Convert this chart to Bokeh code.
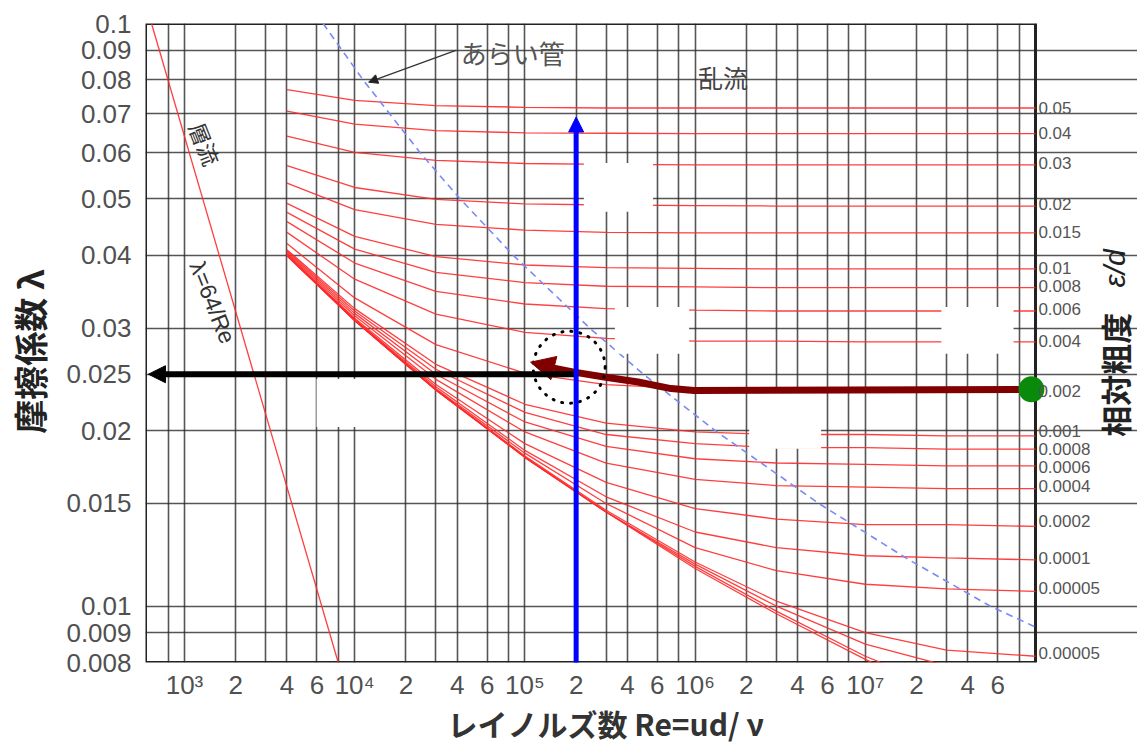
from bokeh.plotting import figure
from bokeh.models import Range1d, FixedTicker, Label, Arrow, NormalHead, Title
from bokeh.core.properties import value
from bokeh.embed import file_html
from bokeh.resources import INLINE

# ---------------- data ----------------
re_points = [4e3, 1e4, 3e4, 1e5, 3e5, 1e6, 3e6, 1e7, 3e7, 1e8]

f_0_05 = [0.0770, 0.0738, 0.0723, 0.0718, 0.0716, 0.0716, 0.0716, 0.0716, 0.0716, 0.0716]
f_0_04 = [0.0707, 0.0672, 0.0655, 0.0649, 0.0648, 0.0647, 0.0647, 0.0647, 0.0647, 0.0647]
f_0_03 = [0.0641, 0.0601, 0.0582, 0.0575, 0.0573, 0.0572, 0.0572, 0.0572, 0.0572, 0.0572]
f_0_02 = [0.0570, 0.0523, 0.0499, 0.0490, 0.0488, 0.0487, 0.0486, 0.0486, 0.0486, 0.0486]
f_0_015 = [0.0532, 0.0479, 0.0452, 0.0442, 0.0438, 0.0437, 0.0437, 0.0437, 0.0437, 0.0437]
f_0_01 = [0.0491, 0.0431, 0.0398, 0.0385, 0.0381, 0.0380, 0.0379, 0.0379, 0.0379, 0.0379]
f_0_008 = [0.0474, 0.0410, 0.0374, 0.0359, 0.0354, 0.0353, 0.0352, 0.0352, 0.0352, 0.0352]
f_0_006 = [0.0457, 0.0388, 0.0347, 0.0330, 0.0324, 0.0322, 0.0321, 0.0321, 0.0321, 0.0321]
f_0_004 = [0.0438, 0.0364, 0.0317, 0.0295, 0.0288, 0.0285, 0.0285, 0.0284, 0.0284, 0.0284]
f_0_002 = [0.0419, 0.0338, 0.0281, 0.0251, 0.0240, 0.0236, 0.0235, 0.0234, 0.0234, 0.0234]
f_0_001 = [0.0409, 0.0324, 0.0260, 0.0222, 0.0206, 0.0199, 0.0197, 0.0197, 0.0196, 0.0196]
f_0_0008 = [0.0407, 0.0321, 0.0255, 0.0215, 0.0197, 0.0190, 0.0187, 0.0187, 0.0186, 0.0186]
f_0_0006 = [0.0405, 0.0318, 0.0250, 0.0207, 0.0188, 0.0179, 0.0176, 0.0175, 0.0174, 0.0174]
f_0_0004 = [0.0403, 0.0315, 0.0245, 0.0199, 0.0176, 0.0165, 0.0161, 0.0160, 0.0159, 0.0159]
f_0_0002 = [0.0401, 0.0312, 0.0240, 0.0190, 0.0163, 0.0147, 0.0141, 0.0138, 0.0138, 0.0137]
f_0_0001 = [0.0400, 0.0310, 0.0238, 0.0185, 0.0154, 0.0134, 0.0126, 0.0122, 0.0121, 0.0120]
f_0_00005 = [0.0400, 0.0310, 0.0236, 0.0183, 0.0150, 0.0126, 0.0115, 0.0109, 0.0107, 0.0106]
f_0_00001 = [0.0400, 0.0309, 0.0235, 0.0181, 0.0146, 0.0119, 0.0102, 0.0090, 0.0084, 0.0082]
f_0_000005 = [0.0400, 0.0309, 0.0235, 0.0180, 0.0145, 0.0118, 0.0100, 0.0086, 0.0079, 0.0075]
f_0_000001 = [0.0400, 0.0309, 0.0235, 0.0180, 0.0145, 0.0117, 0.0098, 0.0082, 0.0072, 0.0064]
f_smooth = [0.0399, 0.0309, 0.0235, 0.0180, 0.0145, 0.0116, 0.0097, 0.0081, 0.0070, 0.0059]

turbulent_curves = [f_0_05, f_0_04, f_0_03, f_0_02, f_0_015, f_0_01, f_0_008, f_0_006,
                    f_0_004, f_0_002, f_0_001, f_0_0008, f_0_0006, f_0_0004, f_0_0002,
                    f_0_0001, f_0_00005, f_0_00001, f_0_000005, f_0_000001, f_smooth]

laminar_re = [640, 8000]
laminar_f = [0.1, 0.008]

rough_boundary_re = [6520, 11210, 24250, 41620, 85470, 240400, 496700, 1.313e6, 5.33e6, 1.81e7, 5.41e7, 1.0e8]
rough_boundary_f = [0.1, 0.08, 0.06, 0.05, 0.04, 0.03, 0.025, 0.02, 0.015, 0.012, 0.01, 0.0092]

x_tick_values = [1e3, 2e3, 4e3, 6e3, 1e4, 2e4, 4e4, 6e4, 1e5, 2e5, 4e5, 6e5,
                 1e6, 2e6, 4e6, 6e6, 1e7, 2e7, 4e7, 6e7]
x_tick_labels = ["10³", "2", "4", "6", "10⁴", "2", "4", "6", "10⁵", "2", "4", "6",
                 "10⁶", "2", "4", "6", "10⁷", "2", "4", "6"]
x_grid_values = [800, 1e3, 2e3, 3e3, 4e3, 6e3, 8e3, 1e4, 2e4, 3e4, 4e4, 6e4, 8e4,
                 1e5, 2e5, 3e5, 4e5, 6e5, 8e5, 1e6, 2e6, 3e6, 4e6, 6e6, 8e6,
                 1e7, 2e7, 3e7, 4e7, 6e7, 8e7, 1e8]

y_tick_values = [0.008, 0.009, 0.01, 0.015, 0.02, 0.025, 0.03, 0.04, 0.05, 0.06, 0.07, 0.08, 0.09, 0.1]
y_tick_labels = ["0.008", "0.009", "0.01", "0.015", "0.02", "0.025", "0.03", "0.04",
                 "0.05", "0.06", "0.07", "0.08", "0.09", "0.1"]

rough_label_f = [0.0716, 0.0648, 0.0576, 0.0490, 0.0438, 0.0381, 0.0354, 0.0323, 0.0285,
                 0.0234, 0.0200, 0.0186, 0.01735, 0.0161, 0.01397, 0.01208, 0.01073, 0.00831]
rough_labels = ["0.05", "0.04", "0.03", "0.02", "0.015", "0.01", "0.008", "0.006", "0.004",
                "0.002", "0.001", "0.0008", "0.0006", "0.0004", "0.0002", "0.0001",
                "0.00005", "0.00005"]

# white masking boxes (data coords)
box_left = [2.22e5, 3.38e5, 2.8e7, 5970, 2.08e6]
box_right = [5.66e5, 9.22e5, 7.43e7, 16300, 5.5e6]
box_top = [0.0576, 0.0326, 0.0326, 0.02453, 0.0235]
box_bottom = [0.0475, 0.0271, 0.0271, 0.0203, 0.01862]

# reading path (maroon), example point
path_re = [9.46e7, 9.86e5, 7.22e5, 4.62e5, 2.92e5, 1.94e5, 1.48e5]
path_f = [0.02355, 0.02345, 0.02362, 0.02424, 0.02472, 0.02521, 0.02561]
example_re = 2e5
example_f = 0.025

JP = "Noto Sans CJK JP"
RE_MIN, RE_MAX = 590, 1.0e8
RE_VIEW_MAX = 3.974e8      # view extends right of the chart to hold the ε/d scale
F_MIN, F_MAX = 0.008, 0.1

# ---------------- figure ----------------
p = figure(width=1137, height=743, x_axis_type="log", y_axis_type="log",
           x_range=Range1d(RE_MIN, RE_VIEW_MAX), y_range=Range1d(F_MIN, F_MAX),
           output_backend="svg", toolbar_location=None,
           min_border_left=145, min_border_right=0, min_border_top=23, min_border_bottom=81)
p.background_fill_color = "white"
p.border_fill_color = "white"
p.outline_line_color = None

p.xgrid.ticker = FixedTicker(ticks=x_grid_values, minor_ticks=[])
p.ygrid.ticker = FixedTicker(ticks=y_tick_values, minor_ticks=[])
p.ygrid.bounds = (RE_MIN, RE_MAX)
for g in (p.xgrid, p.ygrid):
    g.grid_line_color = "#2b2b2b"
    g.grid_line_width = 1.6
    g.grid_line_alpha = 0.8

# chart border
p.quad(left=[RE_MIN], right=[RE_MAX], bottom=[F_MIN], top=[F_MAX],
       fill_color=None, line_color="#222222", line_width=3)

xa = p.xaxis[0]
xa.ticker = FixedTicker(ticks=x_tick_values, minor_ticks=[])
xa.major_label_overrides = dict(zip(x_tick_values, x_tick_labels))
ya = p.yaxis[0]
ya.ticker = FixedTicker(ticks=y_tick_values, minor_ticks=[])
ya.major_label_overrides = dict(zip(y_tick_values, y_tick_labels))

for ax in (xa, ya):
    ax.axis_line_color = None
    ax.major_tick_line_color = None
    ax.minor_tick_line_color = None
    ax.major_label_text_font = "Liberation Sans"
    ax.major_label_text_color = "#505050"
    ax.major_label_text_font_size = "26px"
xa.major_label_standoff = 1
ya.major_label_standoff = 8

ya.axis_label = "摩擦係数 λ\u2002"
ya.axis_label_standoff = 9
ya.axis_label_text_font = JP
ya.axis_label_text_font_size = "34px"
ya.axis_label_text_font_style = "bold"
ya.axis_label_text_color = "#222222"

xtitle = Title(text="レイノルズ数 Re=ud/ ν", align="left", offset=302, standoff=-8,
               text_font=JP, text_font_size="30px", text_font_style="bold",
               text_color="#333333")
p.add_layout(xtitle, "below")

# ---------------- curves ----------------
for fc in turbulent_curves:
    p.line(re_points, fc, line_color="#ff2a2a", line_width=1.3, line_alpha=0.9)

p.line(laminar_re, laminar_f, line_color="#ff2a2a", line_width=1.3, line_alpha=0.9)
p.line(rough_boundary_re, rough_boundary_f, line_color="#7a8af5", line_width=1.6, line_dash="7 5")

p.quad(left=box_left, right=box_right, top=box_top, bottom=box_bottom,
       fill_color="white", line_color=None)

p.line(path_re, path_f, line_color="#800000", line_width=7, line_join="round")
p.scatter([1.82e5], [0.0257], size=72, marker="circle", fill_color=None,
          line_color="black", line_width=3, line_dash=value("1 8"), line_cap="round")
p.scatter([path_re[0]], [path_f[0]], size=26, marker="circle",
          fill_color="#0a8a0a", line_color=None)

# ε/d scale on the right of the chart
p.text(x=[1.04e8] * len(rough_labels), y=rough_label_f, text=rough_labels,
       text_font=value("Liberation Sans"), text_font_size="17px", text_color="#555555",
       text_align="left", text_baseline="middle")
p.text(x=[2.9e8], y=[0.02496], text=["相対粗度"], angle=1.5708,
       text_font=value(JP), text_font_size="31px", text_font_style="bold",
       text_color="#222222", text_align="center", text_baseline="middle")
p.text(x=[2.9e8], y=[0.0380], text=["ε/d"], angle=1.5708,
       text_font=value("Liberation Sans"), text_font_size="30px", text_font_style="italic",
       text_color="#222222", text_align="center", text_baseline="middle")

# arrows
p.add_layout(Arrow(x_start=path_re[-1], y_start=path_f[-1], x_end=1.08e5, y_end=0.02622,
                   line_color="#800000", line_width=7,
                   end=NormalHead(size=24, fill_color="#800000", line_color="#800000")))
p.add_layout(Arrow(x_start=example_re, y_start=example_f, x_end=614, y_end=example_f,
                   line_color="black", line_width=6,
                   end=NormalHead(size=17, fill_color="black", line_color="black")))
p.add_layout(Arrow(x_start=example_re, y_start=0.0079, x_end=example_re, y_end=0.0691,
                   line_color="#0000ff", line_width=5,
                   end=NormalHead(size=15, fill_color="#0000ff", line_color="#0000ff")))
p.add_layout(Arrow(x_start=39300, y_start=0.0899, x_end=12080, y_end=0.0793,
                   line_color="#333333", line_width=1.2,
                   end=NormalHead(size=9, fill_color="#222222", line_color="#222222")))

# ---------------- texts inside the chart ----------------
def lab(text, x, y, **kw):
    p.add_layout(Label(x=x, y=y, text=text, **kw))

lab("あらい管", 42000, 0.0892, text_font=JP, text_font_size="26px", text_color="#555555",
    text_baseline="middle")
lab("乱流", 1.04e6, 0.0809, text_font=JP, text_font_size="25px", text_color="#444444",
    text_baseline="middle")
lab("層流", 1330, 0.0622, text_font=JP, text_font_size="22px", text_color="#333333",
    text_align="center", text_baseline="middle", angle=-1.19)
lab("λ=64/Re", 1462, 0.0332, text_font="Liberation Sans", text_font_size="23px",
    text_color="#333333", text_align="center", text_baseline="middle", angle=-1.19)

open("out.html", "w").write(file_html(p, INLINE))
